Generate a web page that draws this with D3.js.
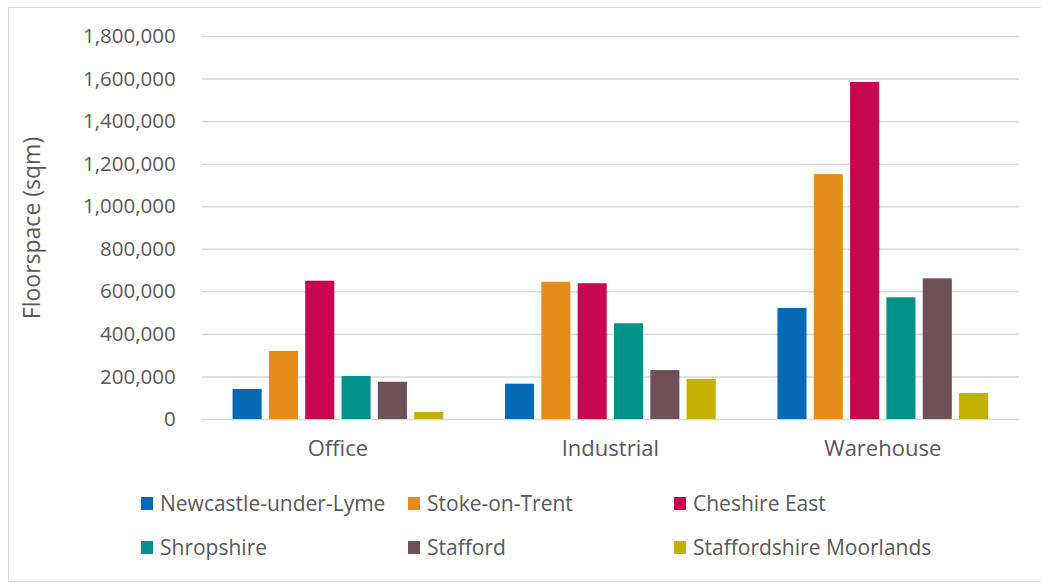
<!DOCTYPE html>
<html>
<head>
<meta charset="utf-8">
<script src="https://cdn.jsdelivr.net/npm/d3@7"></script>
<style>
  html, body { margin: 0; padding: 0; background: #fff; }
  svg text { font-family: "Open Sans", "Noto Sans", sans-serif; fill: #595959; }
</style>
</head>
<body>
<svg id="chart" width="1041" height="583"></svg>
<script>
// Floorspace by use class and local authority (sqm)
const categories = ["Office", "Industrial", "Warehouse"];
const seriesNames = ["Newcastle-under-Lyme", "Stoke-on-Trent", "Cheshire East",
                     "Shropshire", "Stafford", "Staffordshire Moorlands"];
const newcastle   = [141000, 166000, 522000];
const stoke       = [320000, 645000, 1151000];
const cheshireE   = [650000, 638000, 1584000];
const shropshire  = [202000, 450000, 572000];
const stafford    = [175000, 230000, 661000];
const moorlands   = [33000, 188000, 122000];
const yTicks = [0, 200000, 400000, 600000, 800000, 1000000, 1200000, 1400000, 1600000, 1800000];
const colors = ["#0569b4", "#e48d1b", "#c6064f", "#00928a", "#6e5056", "#c1b100"];

const seriesValues = [newcastle, stoke, cheshireE, shropshire, stafford, moorlands];

const svg = d3.select("#chart");
const W = 1041, H = 583;

// outer frame
svg.append("rect")
  .attr("x", 8.5).attr("y", 7.5).attr("width", W - 8).attr("height", 574)
  .attr("fill", "#fff").attr("stroke", "#d9d9d9").attr("stroke-width", 1);

const plot = { left: 201.7, right: 1019, top: 36, bottom: 419 };

const x0 = d3.scaleBand().domain(categories).range([plot.left, plot.right]).padding(0);
const bw = x0.bandwidth();
const x1 = d3.scaleBand().domain(d3.range(seriesNames.length))
  .range([bw * 0.1, bw * 0.9]).paddingInner(0.2).paddingOuter(0.1);
const y = d3.scaleLinear().domain([0, 1800000]).range([plot.bottom, plot.top]);

// gridlines + tick labels
const yAxis = d3.axisLeft(y).tickValues(yTicks).tickSize(-(plot.right - plot.left))
  .tickPadding(26).tickFormat(d3.format(","));
const gy = svg.append("g").attr("transform", `translate(${plot.left},0)`).call(yAxis);
gy.select(".domain").remove();
gy.selectAll(".tick line").attr("stroke", "#d9d9d9").attr("stroke-width", 1.5);
gy.selectAll(".tick text").attr("font-size", 20.5).attr("fill", "#595959")
  .style("font-family", "'Open Sans', sans-serif");

// bars
const groups = svg.append("g").selectAll("g")
  .data(categories).join("g")
  .attr("transform", d => `translate(${x0(d)},0)`);
groups.selectAll("rect")
  .data((c, ci) => seriesValues.map((vals, si) => ({ si, v: vals[ci] })))
  .join("rect")
  .attr("x", d => x1(d.si))
  .attr("width", x1.bandwidth())
  .attr("y", d => y(d.v))
  .attr("height", d => y(0) - y(d.v))
  .attr("fill", d => colors[d.si]);

// category axis
const xAxis = d3.axisBottom(x0).tickSize(0).tickPadding(21);
const gx = svg.append("g").attr("transform", `translate(0,${plot.bottom})`).call(xAxis);
gx.select(".domain").remove();
gx.selectAll(".tick text").attr("font-size", 22).attr("fill", "#595959")
  .style("font-family", "'Open Sans', sans-serif");

// y-axis title
svg.append("text")
  .attr("transform", `translate(40,228) rotate(-90)`)
  .attr("text-anchor", "middle")
  .attr("font-size", 23)
  .text("Floorspace (sqm)");

// legend: two rows of three
const legendCols = [141, 408, 674];
const legendRows = [504, 548];
const legend = svg.append("g").selectAll("g")
  .data(seriesNames).join("g")
  .attr("transform", (d, i) => `translate(${legendCols[i % 3]},${legendRows[Math.floor(i / 3)]})`);
legend.append("rect")
  .attr("x", 0).attr("y", -7).attr("width", 12).attr("height", 13)
  .attr("fill", (d, i) => colors[i]);
legend.append("text")
  .attr("x", 19).attr("y", 0).attr("dy", "0.35em")
  .attr("font-size", 21)
  .text(d => d);
</script>
</body>
</html>
